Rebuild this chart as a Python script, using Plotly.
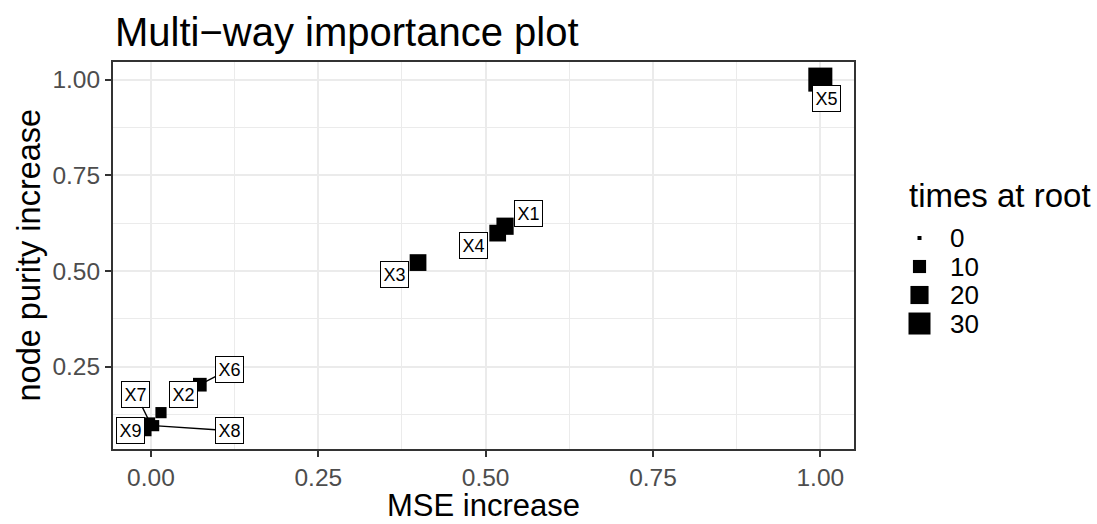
import math
import plotly.graph_objects as go

# ---- data ----
variables = ["X1", "X2", "X3", "X4", "X5", "X6", "X7", "X8", "X9"]
mse_increase = [0.529, 0.015, 0.399, 0.518, 1.0, 0.073, -0.0015, 0.004, -0.0064]
node_purity_increase = [0.617, 0.130, 0.522, 0.599, 1.0, 0.203, 0.104, 0.096, 0.081]
times_a_root = [18, 7, 17, 17, 36, 11, 6, 7, 5]
legend_breaks = [0, 10, 20, 30]
x_ticks = [0.0, 0.25, 0.5, 0.75, 1.0]
y_ticks = [0.25, 0.5, 0.75, 1.0]

# label placement (pixel offsets from the point, +dy = down) and whether a segment is drawn
label_dx = [23.5, 22.5, -23.5, -24, 6, 30, -14, 76, -16]
label_dy = [-12.5, -18, 12, 12, 19, -15.5, -28.5, 5, -1]
label_seg = [False, False, False, False, False, True, True, True, False]

W, H = 1097, 524
FONT = "Liberation Sans"


def side(v):
    # ggplot-like area scale for square size
    return math.sqrt(16 + 15.6 * v)


fig = go.Figure()
fig.add_trace(go.Scatter(
    x=mse_increase, y=node_purity_increase, mode="markers",
    marker=dict(symbol="square", color="black", opacity=1,
                size=[side(v) for v in times_a_root], line=dict(width=0)),
    text=variables, showlegend=False, xaxis="x", yaxis="y",
))
# legend keys on a hidden helper axis
fig.add_trace(go.Scatter(
    x=[0] * len(legend_breaks), y=legend_breaks, mode="markers",
    marker=dict(symbol="square", color="black", opacity=1,
                size=[side(v) for v in legend_breaks], line=dict(width=0)),
    showlegend=False, xaxis="x2", yaxis="y2", cliponaxis=False,
))

ann = []
for n, xv, yv, dx, dy, seg in zip(variables, mse_increase, node_purity_increase,
                                  label_dx, label_dy, label_seg):
    common = dict(x=xv, y=yv, xref="x", yref="y", text=n,
                  font=dict(family=FONT, size=18, color="black"),
                  bgcolor="white", bordercolor="black", borderwidth=1, borderpad=2.5)
    if seg:
        ann.append(dict(**common, showarrow=True, ax=dx, ay=dy, arrowhead=0,
                        arrowwidth=1.3, arrowcolor="black", standoff=0))
    else:
        ann.append(dict(**common, showarrow=False, xshift=dx, yshift=-dy))

ann.append(dict(text="Multi\u2212way importance plot", xref="paper", yref="paper",
                x=113 / W, y=1 - 32 / H, xanchor="left", yanchor="middle", showarrow=False,
                font=dict(family=FONT, size=40, color="black")))
ann.append(dict(text="MSE increase", xref="paper", yref="paper",
                x=483.5 / W, y=0, xanchor="center", yanchor="bottom", showarrow=False,
                borderpad=0, font=dict(family=FONT, size=31, color="black")))
ann.append(dict(text="node purity increase", xref="paper", yref="paper",
                x=28 / W, y=1 - 255.5 / H, xanchor="center", yanchor="middle", showarrow=False,
                textangle=-90, font=dict(family=FONT, size=32.5, color="black")))
ann.append(dict(text="times at root", xref="paper", yref="paper",
                x=907 / W, y=1 - 195 / H, xanchor="left", yanchor="middle", showarrow=False,
                font=dict(family=FONT, size=33, color="black")))
for b in legend_breaks:
    ann.append(dict(text=str(b), xref="x2", yref="y2", x=1.425, y=b,
                    xanchor="left", yanchor="middle", showarrow=False,
                    font=dict(family=FONT, size=26, color="black")))

axis_common = dict(
    showline=True, mirror=True, linecolor="#333333", linewidth=2,
    ticks="outside", ticklen=6, tickwidth=2, tickcolor="#333333",
    showgrid=True, gridcolor="#EBEBEB", gridwidth=2, zeroline=False,
    tickfont=dict(family=FONT, size=24.5, color="#4D4D4D"),
    tickformat=".2f",
    minor=dict(dtick=0.125, showgrid=True, gridcolor="#EBEBEB", gridwidth=1, ticks=""),
)

fig.update_layout(
    width=W, height=H, margin=dict(l=0, r=0, t=0, b=0),
    paper_bgcolor="white", plot_bgcolor="white",
    xaxis=dict(domain=[113 / W, 854 / W], range=[-0.0567, 1.0503], tickvals=x_ticks,
               anchor="y", **axis_common),
    yaxis=dict(domain=[1 - 449 / H, 1 - 62 / H], range=[0.035, 1.046], tickvals=y_ticks,
               anchor="x", **axis_common),
    xaxis2=dict(domain=[899.5 / W, 999.5 / W], range=[-1, 4], visible=False, anchor="y2"),
    yaxis2=dict(domain=[0.3554, 0.5730], range=[35, -5], visible=False, anchor="x2"),
    annotations=ann,
    font=dict(family=FONT),
)

fig.write_html("out.html")
